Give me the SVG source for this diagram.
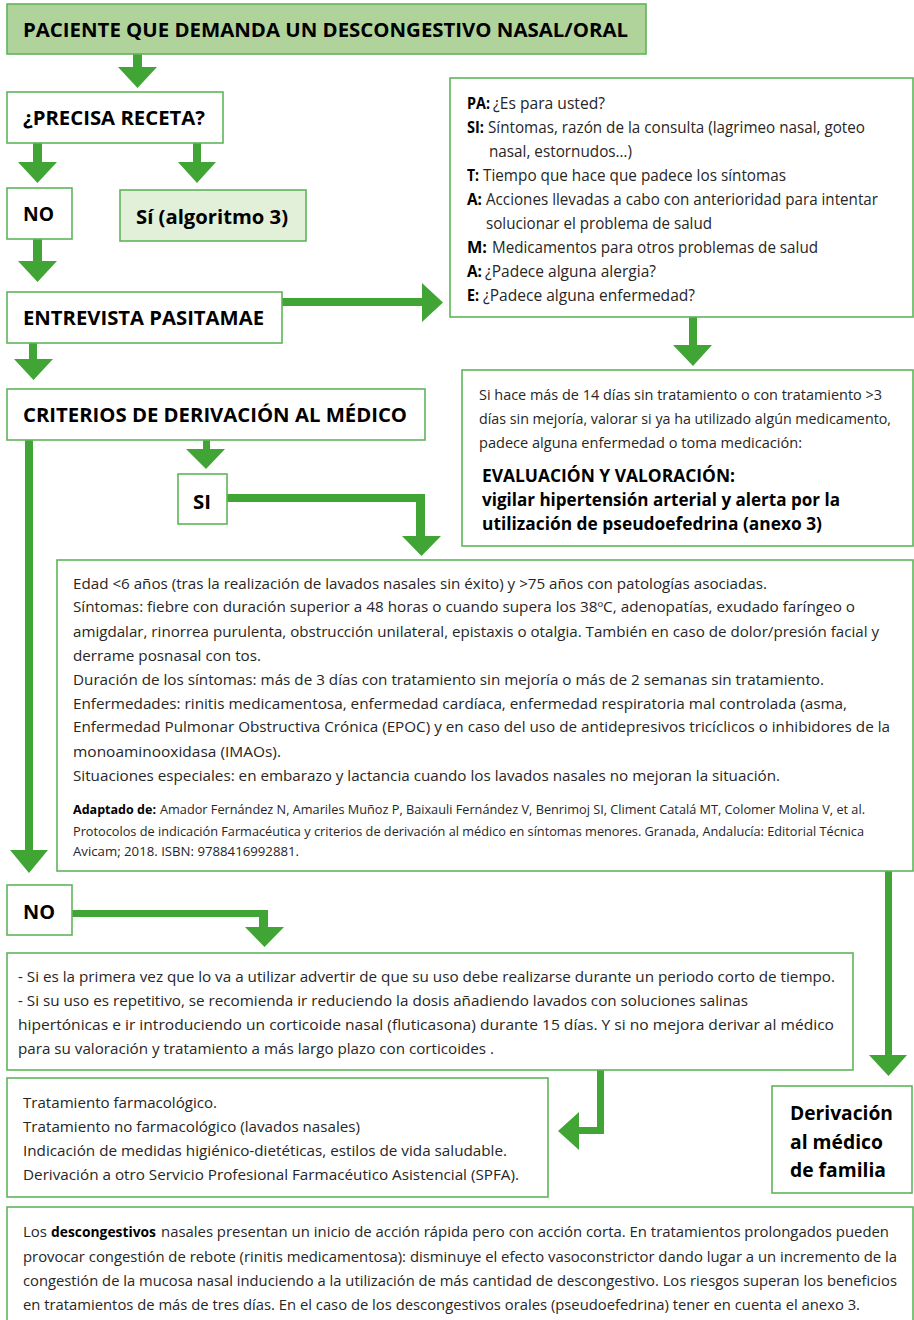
<svg xmlns="http://www.w3.org/2000/svg" width="914" height="1320" viewBox="0 0 914 1320">
<style>
.box{fill:#ffffff;stroke:#5fb55a;stroke-width:1.6}
.title{fill:#b0d39c;stroke:#5fb55a;stroke-width:1.6}
.light{fill:#e2efd9;stroke:#5fb55a;stroke-width:1.6}
.arr{fill:#40a535}
text{font-family:"Open Sans","Liberation Sans",sans-serif}
.h{font-weight:700;font-size:20px;fill:#000}
.hb{font-weight:700;font-size:18px;fill:#000}
.t{font-size:15.5px;fill:#262626}
.te{font-size:14.8px;fill:#262626}
.tb{font-size:15.5px;fill:#000;font-weight:700}
.s{font-size:14.5px;fill:#262626}
.sb{font-size:14.5px;fill:#000;font-weight:700}
.r{font-size:12.5px;fill:#262626}
.rb{font-size:12.5px;fill:#000;font-weight:700}
</style>
<rect width="914" height="1320" fill="#ffffff"/>

<g id="connectors">
<path class="arr" d="M133,54 H142 V67 H157 L137.5,88 L118,67 H133 Z"/>
<path class="arr" d="M33,143 H42 V162 H57 L37.5,183 L18,162 H33 Z"/>
<path class="arr" d="M193,143 H201 V162 H216 L197,183 L178,162 H193 Z"/>
<path class="arr" d="M33,239 H42 V261 H57 L37.5,282 L18,261 H33 Z"/>
<path class="arr" d="M282,298 H422 V283 L443,302.5 L422,322 V306 H282 Z"/>
<path class="arr" d="M689,317 H697 V345 H712 L693,366 L673,345 H689 Z"/>
<path class="arr" d="M29,343 H37 V359 H53 L33.5,380 L14,359 H29 Z"/>
<path class="arr" d="M203,440 H210 V449 H225 L206,469 L186,449 H203 Z"/>
<path class="arr" d="M227,494 H425 V536 H441 L421.5,556 L402,536 H416 V502 H227 Z"/>
<path class="arr" d="M25,440 H33 V850 H48 L29,873 L10,850 H25 Z"/>
<path class="arr" d="M72,910 H268 V927 H284 L264.5,947 L245,927 H259 V917 H72 Z"/>
<path class="arr" d="M885,871 H892 V1055 H907 L888.5,1076 L869,1055 H885 Z"/>
<path class="arr" d="M597,1070 H604 V1134 H579 V1150 L558,1131 L579,1112 V1127 H597 Z"/>
</g>

<g id="n-paciente">
<rect class="title" x="7" y="4" width="639" height="50"/>
<text class="h" x="23" y="37" textLength="605" lengthAdjust="spacingAndGlyphs">PACIENTE QUE DEMANDA UN DESCONGESTIVO NASAL/ORAL</text>
</g>

<g id="n-receta">
<rect class="box" x="7" y="92" width="216" height="51"/>
<text class="h" x="23" y="125" textLength="182" lengthAdjust="spacingAndGlyphs">¿PRECISA RECETA?</text>
</g>

<g id="n-no1">
<rect class="box" x="7" y="188" width="65" height="51"/>
<text class="h" x="23" y="221" textLength="31" lengthAdjust="spacingAndGlyphs">NO</text>
</g>

<g id="n-si-alg">
<rect class="light" x="120" y="190" width="186" height="51"/>
<text class="h" x="136" y="224" textLength="152" lengthAdjust="spacingAndGlyphs">Sí (algoritmo 3)</text>
</g>

<g id="n-entrevista">
<rect class="box" x="7" y="292" width="275" height="51"/>
<text class="h" x="23" y="325" textLength="241" lengthAdjust="spacingAndGlyphs">ENTREVISTA PASITAMAE</text>
</g>

<g id="n-pasitamae">
<rect class="box" x="450" y="78" width="463" height="239"/>
<text class="tb" x="467" y="109" textLength="23" lengthAdjust="spacingAndGlyphs">PA:</text>
<text class="t" x="493" y="109" textLength="112" lengthAdjust="spacingAndGlyphs">¿Es para usted?</text>
<text class="tb" x="467" y="133" textLength="17" lengthAdjust="spacingAndGlyphs">SI:</text>
<text class="t" x="488" y="133" textLength="377" lengthAdjust="spacingAndGlyphs">Síntomas, razón de la consulta (lagrimeo nasal, goteo</text>
<text class="t" x="489" y="157" textLength="143" lengthAdjust="spacingAndGlyphs">nasal, estornudos…)</text>
<text class="tb" x="467" y="181" textLength="12" lengthAdjust="spacingAndGlyphs">T:</text>
<text class="t" x="483" y="181" textLength="303" lengthAdjust="spacingAndGlyphs">Tiempo que hace que padece los síntomas</text>
<text class="tb" x="467" y="205" textLength="15" lengthAdjust="spacingAndGlyphs">A:</text>
<text class="t" x="486" y="205" textLength="392" lengthAdjust="spacingAndGlyphs">Acciones llevadas a cabo con anterioridad para intentar</text>
<text class="t" x="486" y="229" textLength="226" lengthAdjust="spacingAndGlyphs">solucionar el problema de salud</text>
<text class="tb" x="467" y="253" textLength="20" lengthAdjust="spacingAndGlyphs">M:</text>
<text class="t" x="492" y="253" textLength="326" lengthAdjust="spacingAndGlyphs">Medicamentos para otros problemas de salud</text>
<text class="tb" x="467" y="277" textLength="15" lengthAdjust="spacingAndGlyphs">A:</text>
<text class="t" x="485" y="277" textLength="171" lengthAdjust="spacingAndGlyphs">¿Padece alguna alergia?</text>
<text class="tb" x="467" y="301" textLength="12" lengthAdjust="spacingAndGlyphs">E:</text>
<text class="t" x="483" y="301" textLength="212" lengthAdjust="spacingAndGlyphs">¿Padece alguna enfermedad?</text>
</g>

<g id="n-evaluacion">
<rect class="box" x="462" y="370" width="451" height="176"/>
<text class="te" x="479" y="400" textLength="403" lengthAdjust="spacingAndGlyphs">Si hace más de 14 días sin tratamiento o con tratamiento &gt;3</text>
<text class="te" x="479" y="424" textLength="412" lengthAdjust="spacingAndGlyphs">días sin mejoría, valorar si ya ha utilizado algún medicamento,</text>
<text class="te" x="479" y="448" textLength="323" lengthAdjust="spacingAndGlyphs">padece alguna enfermedad o toma medicación:</text>
<text class="hb" x="482" y="482" textLength="253" lengthAdjust="spacingAndGlyphs">EVALUACIÓN Y VALORACIÓN:</text>
<text class="hb" x="482" y="506" textLength="358" lengthAdjust="spacingAndGlyphs">vigilar hipertensión arterial y alerta por la</text>
<text class="hb" x="482" y="530" textLength="340" lengthAdjust="spacingAndGlyphs">utilización de pseudoefedrina (anexo 3)</text>
</g>

<g id="n-criterios">
<rect class="box" x="7" y="389" width="418" height="51"/>
<text class="h" x="23" y="422" textLength="384" lengthAdjust="spacingAndGlyphs">CRITERIOS DE DERIVACIÓN AL MÉDICO</text>
</g>

<g id="n-si">
<rect class="box" x="178" y="474" width="49" height="50"/>
<text class="h" x="193" y="509" textLength="18" lengthAdjust="spacingAndGlyphs">SI</text>
</g>

<g id="n-criterios-detalle">
<rect class="box" x="57" y="560" width="856" height="311"/>
<text class="s" x="73" y="589" textLength="694" lengthAdjust="spacingAndGlyphs">Edad &lt;6 años (tras la realización de lavados nasales sin éxito) y &gt;75 años con patologías asociadas.</text>
<text class="s" x="73" y="612" textLength="782" lengthAdjust="spacingAndGlyphs">Síntomas: fiebre con duración superior a 48 horas o cuando supera los 38ºC, adenopatías, exudado faríngeo o</text>
<text class="s" x="73" y="637" textLength="806" lengthAdjust="spacingAndGlyphs">amigdalar, rinorrea purulenta, obstrucción unilateral, epistaxis o otalgia. También en caso de dolor/presión facial y</text>
<text class="s" x="73" y="661" textLength="188" lengthAdjust="spacingAndGlyphs">derrame posnasal con tos.</text>
<text class="s" x="73" y="685" textLength="751" lengthAdjust="spacingAndGlyphs">Duración de los síntomas: más de 3 días con tratamiento sin mejoría o más de 2 semanas sin tratamiento.</text>
<text class="s" x="73" y="709" textLength="774" lengthAdjust="spacingAndGlyphs">Enfermedades: rinitis medicamentosa, enfermedad cardíaca, enfermedad respiratoria mal controlada (asma,</text>
<text class="s" x="73" y="732" textLength="817" lengthAdjust="spacingAndGlyphs">Enfermedad Pulmonar Obstructiva Crónica (EPOC) y en caso del uso de antidepresivos tricíclicos o inhibidores de la</text>
<text class="s" x="73" y="757" textLength="208" lengthAdjust="spacingAndGlyphs">monoaminooxidasa (IMAOs).</text>
<text class="s" x="73" y="781" textLength="707" lengthAdjust="spacingAndGlyphs">Situaciones especiales: en embarazo y lactancia cuando los lavados nasales no mejoran la situación.</text>
<text class="rb" x="73" y="814" textLength="83" lengthAdjust="spacingAndGlyphs">Adaptado de:</text>
<text class="r" x="160" y="814" textLength="705" lengthAdjust="spacingAndGlyphs">Amador Fernández N, Amariles Muñoz P, Baixauli Fernández V, Benrimoj SI, Climent Catalá MT, Colomer Molina V, et al.</text>
<text class="r" x="73" y="836" textLength="791" lengthAdjust="spacingAndGlyphs">Protocolos de indicación Farmacéutica y criterios de derivación al médico en síntomas menores. Granada, Andalucía: Editorial Técnica</text>
<text class="r" x="73" y="856" textLength="226" lengthAdjust="spacingAndGlyphs">Avicam; 2018. ISBN: 9788416992881.</text>
</g>

<g id="n-no2">
<rect class="box" x="7" y="885" width="65" height="50"/>
<text class="h" x="23" y="919" textLength="32" lengthAdjust="spacingAndGlyphs">NO</text>
</g>

<g id="n-consejo">
<rect class="box" x="7" y="953" width="846" height="117"/>
<text class="s" x="18" y="982" textLength="817" lengthAdjust="spacingAndGlyphs">- Si es la primera vez que lo va a utilizar advertir de que su uso debe realizarse durante un periodo corto de tiempo.</text>
<text class="s" x="18" y="1006" textLength="730" lengthAdjust="spacingAndGlyphs">- Si su uso es repetitivo, se recomienda ir reduciendo la dosis añadiendo lavados con soluciones salinas</text>
<text class="s" x="18" y="1030" textLength="816" lengthAdjust="spacingAndGlyphs">hipertónicas e ir introduciendo un corticoide nasal (fluticasona) durante 15 días. Y si no mejora derivar al médico</text>
<text class="s" x="18" y="1054" textLength="476" lengthAdjust="spacingAndGlyphs">para su valoración y tratamiento a más largo plazo con corticoides .</text>
</g>

<g id="n-tratamiento">
<rect class="box" x="7" y="1078" width="541" height="119"/>
<text class="s" x="23" y="1108" textLength="194" lengthAdjust="spacingAndGlyphs">Tratamiento farmacológico.</text>
<text class="s" x="23" y="1132" textLength="337" lengthAdjust="spacingAndGlyphs">Tratamiento no farmacológico (lavados nasales)</text>
<text class="s" x="23" y="1156" textLength="484" lengthAdjust="spacingAndGlyphs">Indicación de medidas higiénico-dietéticas, estilos de vida saludable.</text>
<text class="s" x="23" y="1180" textLength="496" lengthAdjust="spacingAndGlyphs">Derivación a otro Servicio Profesional Farmacéutico Asistencial (SPFA).</text>
</g>

<g id="n-derivacion">
<rect class="box" x="772" y="1086" width="140" height="107"/>
<text class="h" x="790" y="1120" textLength="103" lengthAdjust="spacingAndGlyphs">Derivación</text>
<text class="h" x="790" y="1149" textLength="93" lengthAdjust="spacingAndGlyphs">al médico</text>
<text class="h" x="790" y="1177" textLength="96" lengthAdjust="spacingAndGlyphs">de familia</text>
</g>

<g id="n-nota">
<rect class="box" x="7" y="1207" width="906" height="125"/>
<text class="s" x="23" y="1237" textLength="24" lengthAdjust="spacingAndGlyphs">Los</text>
<text class="sb" x="51" y="1237" textLength="105" lengthAdjust="spacingAndGlyphs">descongestivos</text>
<text class="s" x="161" y="1237" textLength="728" lengthAdjust="spacingAndGlyphs">nasales presentan un inicio de acción rápida pero con acción corta. En tratamientos prolongados pueden</text>
<text class="s" x="23" y="1262" textLength="874" lengthAdjust="spacingAndGlyphs">provocar congestión de rebote (rinitis medicamentosa): disminuye el efecto vasoconstrictor dando lugar a un incremento de la</text>
<text class="s" x="23" y="1286" textLength="874" lengthAdjust="spacingAndGlyphs">congestión de la mucosa nasal induciendo a la utilización de más cantidad de descongestivo. Los riesgos superan los beneficios</text>
<text class="s" x="23" y="1310" textLength="837" lengthAdjust="spacingAndGlyphs">en tratamientos de más de tres días. En el caso de los descongestivos orales (pseudoefedrina) tener en cuenta el anexo 3.</text>
</g>
</svg>
